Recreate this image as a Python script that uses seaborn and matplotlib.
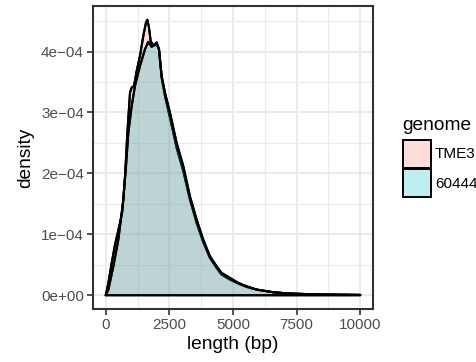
import numpy as np
import pandas as pd
import seaborn as sns
import matplotlib
matplotlib.use("Agg")
import matplotlib.pyplot as plt
from matplotlib.patches import Rectangle

# ---- data ----
genomes = ["TME3", "60444"]
colors = {"TME3": "#F8766D", "60444": "#00BFC4"}

tme3_len = [0, 105, 235, 366, 562, 654, 758, 850, 954, 1020, 1111, 1216, 1346, 1477,
            1582, 1634, 1699, 1765, 1869, 2000, 2092, 2196, 2327, 2523, 2784, 3046,
            3307, 3569, 3830, 4092, 4353, 4549, 4876, 5203, 5529, 5922, 6575, 7229,
            8536, 10000]
tme3_dens = [0, 0.203, 0.532, 0.833, 1.189, 1.381, 1.956, 2.668, 3.326, 3.408, 3.436,
             3.682, 3.929, 4.258, 4.477, 4.521, 4.395, 4.175, 4.093, 4.121, 4.038,
             3.573, 3.271, 2.915, 2.422, 2.038, 1.573, 1.189, 0.871, 0.614, 0.449,
             0.340, 0.258, 0.192, 0.137, 0.093, 0.049, 0.027, 0.011, 0.005]

g60444_len = [0, 105, 301, 497, 693, 797, 889, 1020, 1150, 1346, 1542, 1673, 1804,
              2000, 2092, 2196, 2327, 2523, 2784, 3046, 3307, 3569, 3830, 4092, 4353,
              4549, 4876, 5203, 5529, 5922, 6575, 7229, 8536, 10000]
g60444_dens = [0, 0.093, 0.477, 0.915, 1.573, 2.121, 2.668, 3.107, 3.436, 3.764,
               4.038, 4.159, 4.077, 4.148, 4.038, 3.600, 3.326, 2.997, 2.504, 2.121,
               1.627, 1.244, 0.915, 0.641, 0.477, 0.367, 0.285, 0.203, 0.148, 0.093,
               0.049, 0.027, 0.011, 0.005]

x_ticks = [0, 2500, 5000, 7500, 10000]
x_ticklabels = ["0", "2500", "5000", "7500", "10000"]
y_ticks = [0, 1e-4, 2e-4, 3e-4, 4e-4]
y_ticklabels = ["0e+00", "1e\u221204", "2e\u221204", "3e\u221204", "4e\u221204"]

df = pd.concat([
    pd.DataFrame({"length": tme3_len, "density": np.array(tme3_dens) * 1e-4, "genome": "TME3"}),
    pd.DataFrame({"length": g60444_len, "density": np.array(g60444_dens) * 1e-4, "genome": "60444"}),
])

# ---- figure ----
sns.set_theme(style="white")
plt.rcParams["font.family"] = ["Liberation Sans", "DejaVu Sans"]

W, H = 476, 362
fig = plt.figure(figsize=(W / 100, H / 100), dpi=100)
left, right, top, bottom = 93, 373, 6, 309
ax = fig.add_axes([left / W, 1 - bottom / H, (right - left) / W, (bottom - top) / H])

ymax = max(df["density"])
ax.set_xlim(-500, 10500)
ax.set_ylim(-0.05 * ymax, 1.05 * ymax)

# grid
for v in [-1250, 1250, 3750, 6250, 8750]:
    ax.axvline(v, color="#EBEBEB", lw=0.8, zorder=0)
for v in [0.5e-4, 1.5e-4, 2.5e-4, 3.5e-4, 4.5e-4]:
    ax.axhline(v, color="#EBEBEB", lw=0.8, zorder=0)
for v in x_ticks:
    ax.axvline(v, color="#EBEBEB", lw=1.5, zorder=0)
for v in y_ticks:
    ax.axhline(v, color="#EBEBEB", lw=1.5, zorder=0)

for g in genomes:
    sub = df[df["genome"] == g]
    ax.fill_between(sub["length"], 0, sub["density"], facecolor=colors[g], alpha=0.25,
                    edgecolor="none", zorder=2)
    ax.fill_between(sub["length"], 0, sub["density"], facecolor="none",
                    edgecolor="black", lw=1.5, zorder=2)
    sns.lineplot(data=sub, x="length", y="density", color="black", lw=1.5, ax=ax,
                 zorder=2, legend=False, sort=False)

ax.set_xticks(x_ticks)
ax.set_xticklabels(x_ticklabels)
ax.set_yticks(y_ticks)
ax.set_yticklabels(y_ticklabels)
ax.tick_params(axis="both", which="major", length=4.0, width=1.2, color="#333333",
               labelsize=11, labelcolor="#4D4D4D", pad=2.5, direction="out",
               bottom=True, left=True)
for s in ax.spines.values():
    s.set_color("#333333")
    s.set_linewidth(1.5)
    s.set_zorder(5)
ax.set_xlabel("length (bp)", fontsize=13.75, color="black", labelpad=3)
ax.set_ylabel("density", fontsize=13.75, color="black", labelpad=5)

# legend (manual, ggplot style)
fig.text(402 / W, 1 - 130 / H, "genome", fontsize=13.75, color="black",
         va="baseline", ha="left")
key_y = [140, 169]
label_base = [158.5, 187.5]
for g, ky, lb in zip(genomes, key_y, label_base):
    fig.add_artist(Rectangle((403 / W, 1 - (ky + 28) / H), 28 / W, 28 / H,
                             transform=fig.transFigure, facecolor=colors[g], alpha=0.25,
                             edgecolor="none"))
    fig.add_artist(Rectangle((403 / W, 1 - (ky + 28) / H), 28 / W, 28 / H,
                             transform=fig.transFigure, facecolor="none",
                             edgecolor="black", lw=1.4))
    fig.text(435 / W, 1 - lb / H, g, fontsize=11, color="black", va="baseline",
             ha="left")

fig.savefig("out.png", dpi=100)
